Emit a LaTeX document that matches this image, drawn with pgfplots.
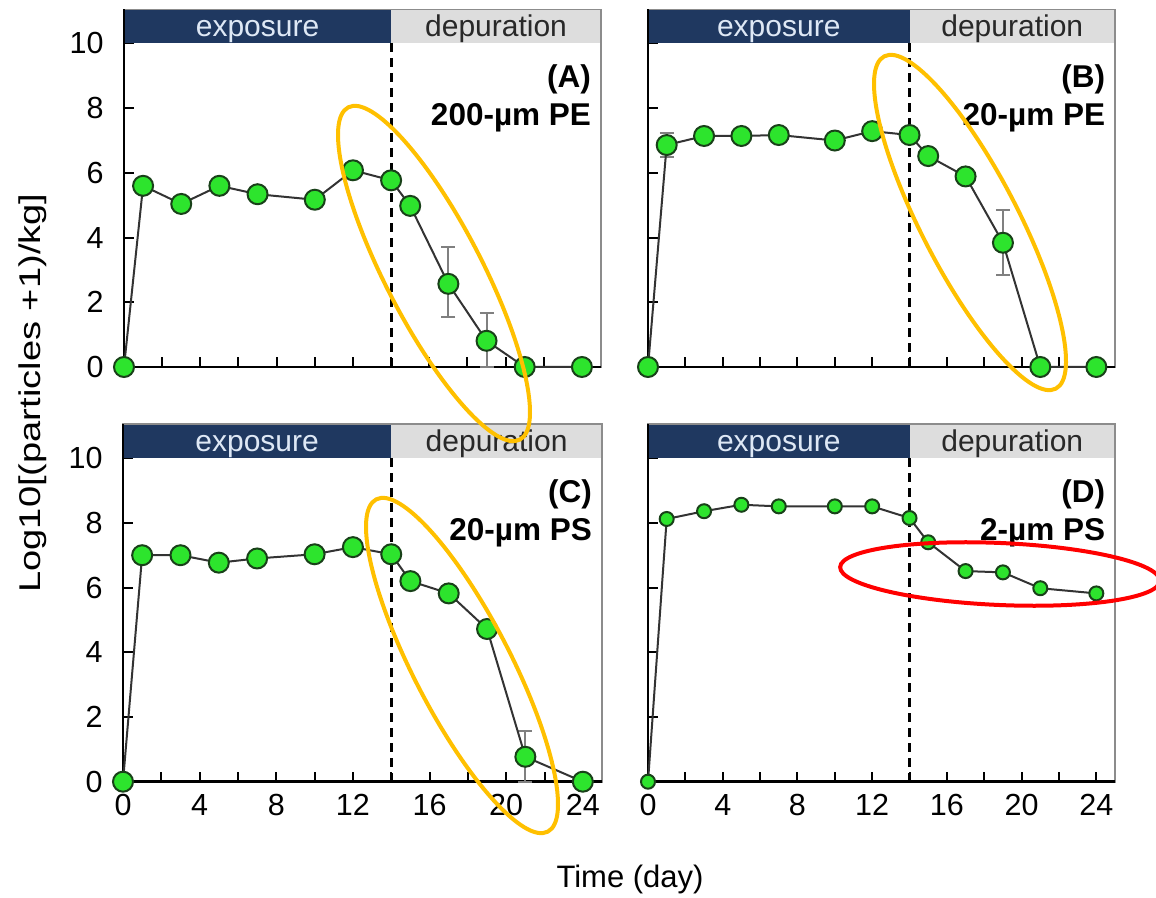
\documentclass[border=0pt]{standalone}
\usepackage{pgfplots}
\pgfplotsset{compat=1.18}
\usepackage{fontspec}
\setmainfont{Liberation Sans}
\usepackage{graphicx}
\definecolor{navy}{RGB}{31,56,96}
\definecolor{hdrgray}{RGB}{221,221,221}
\definecolor{ptgreen}{RGB}{45,228,45}
\definecolor{ptedge}{RGB}{25,65,25}
\definecolor{ellyellow}{RGB}{255,192,0}
\definecolor{exptext}{RGB}{222,232,245}
\definecolor{deptext}{RGB}{40,40,40}
\definecolor{framegray}{RGB}{140,140,140}

\pgfplotsset{
  panel/.style={
    scale only axis,
    width=#1, height=143pt,
    xmin=0, xmax=25, ymin=0, ymax=11.05,
    xtick={0,4,...,24}, minor xtick={2,6,...,22},
    ytick={0,2,...,10},
    tick align=inside,
    major tick length=4pt, minor tick length=4pt,
    xtick pos=bottom, ytick pos=left,
    tick style={black, line width=0.8pt},
    axis line style={framegray, line width=0.7pt},
    clip=false,
    /pgf/number format/assume math mode=true,
    ticklabel style={font=\fontsize{12.2}{14}\selectfont},
    yticklabel style={xshift=-4pt},
    xticklabel style={yshift=-1pt},
  },
  ser/.style={color=black!80, line width=0.8pt, mark=*, mark size=#1,
    mark options={fill=ptgreen, draw=ptedge, line width=0.8pt, solid}},
  errs/.style={draw=none, forget plot, mark=none,
    error bars/.cd, y dir=both, y explicit,
    error bar style={draw=gray, line width=0.8pt},
    error mark options={rotate=90, draw=gray, mark size=2.8pt, line width=0.8pt}},
}
\newcommand{\hdr}{%
  \fill[navy] (axis cs:0,10) rectangle (axis cs:14,11.05);
  \fill[hdrgray] (axis cs:14,10) rectangle (axis cs:25,11.05);
  \draw[framegray, line width=0.7pt] (axis cs:0,11.05) -- (axis cs:25,11.05) -- (axis cs:25,0);
  \node[text=exptext, anchor=base] at (axis cs:7,10.2) {exposure};
  \node[text=deptext, anchor=base] at (axis cs:19.5,10.2) {depuration};
  \draw[black, line width=1.3pt, dash pattern=on 3.6pt off 2.4pt] (axis cs:14,0) -- (axis cs:14,10);
  \draw[black, line width=1.1pt] (axis cs:0,11.05) -- (axis cs:0,0) -- (axis cs:25,0);
}
\newcommand{\plab}[2]{%
  \node[anchor=east, inner sep=0pt, align=right, font=\bfseries\fontsize{12.6}{15.2}\selectfont] at (axis cs:24.5,8.3) {#1\\#2};
}

\begin{document}
\fontsize{12}{14}\selectfont
\begin{tikzpicture}
\useasboundingbox (0,0) rectangle (462.4pt,358.8pt);

% Panel A
\begin{axis}[panel=190.8pt, at={(49.6pt,212pt)}, anchor=south west, xticklabels={}]
\hdr
\addplot[errs] coordinates {(17,2.57) += (0,1.13) -= (0,1.02) (19,0.81) += (0,0.86) -= (0,0.81)};
\addplot[ser=4pt] coordinates {(0,0) (1,5.6) (3,5.04) (5,5.6) (7,5.34) (10,5.17) (12,6.08) (14,5.77) (15,4.98) (17,2.57) (19,0.81) (21,0) (24,0)};
\plab{(A)}{200-µm PE}
\end{axis}

% Panel B
\begin{axis}[panel=186.8pt, at={(259.2pt,212pt)}, anchor=south west, xticklabels={}, yticklabels={}]
\hdr
\addplot[errs] coordinates {(1,6.86) += (0,0.38) -= (0,0.38) (19,3.84) += (0,1.0) -= (0,1.0)};
\addplot[ser=4pt] coordinates {(0,0) (1,6.86) (3,7.14) (5,7.14) (7,7.17) (10,7.0) (12,7.29) (14,7.17) (15,6.52) (17,5.89) (19,3.84) (21,0) (24,0)};
\plab{(B)}{20-µm PE}
\end{axis}

% Panel C
\begin{axis}[panel=191.6pt, at={(49.2pt,46.12pt)}, anchor=south west]
\hdr
\addplot[errs] coordinates {(21,0.77) += (0,0.8) -= (0,0.77)};
\addplot[ser=4pt] coordinates {(0,0) (1,7.0) (3,7.0) (5,6.77) (7,6.9) (10,7.03) (12,7.25) (14,7.03) (15,6.2) (17,5.82) (19,4.72) (21,0.77) (24,0)};
\plab{(C)}{20-µm PS}
\end{axis}

% Panel D
\begin{axis}[panel=186.8pt, at={(259.2pt,46.12pt)}, anchor=south west, yticklabels={}]
\hdr
\addplot[ser=2.8pt] coordinates {(0,0) (1,8.12) (3,8.36) (5,8.56) (7,8.51) (10,8.51) (12,8.51) (14,8.15) (15,7.4) (17,6.51) (19,6.47) (21,5.98) (24,5.82)};
\plab{(D)}{2-µm PS}
\end{axis}

% axis titles
\node[rotate=90] at (13pt,201.6pt) {\scalebox{1.27}[1]{Log10[(particles +1)/kg]}};
\node at (252pt,7pt) {\fontsize{12.4}{14}\selectfont Time (day)};

% annotation ellipses
\draw[ellyellow, line width=1.6pt, rotate around={-62.7:(173.6pt,249.4pt)}] (173.6pt,249.4pt) ellipse [x radius=74.8pt, y radius=19.4pt];
\draw[ellyellow, line width=1.6pt, rotate around={-62.7:(388pt,269.8pt)}] (388pt,269.8pt) ellipse [x radius=74.8pt, y radius=19.4pt];
\draw[ellyellow, line width=1.6pt, rotate around={-62.7:(184.8pt,92.6pt)}] (184.8pt,92.6pt) ellipse [x radius=74.8pt, y radius=19.4pt];
\draw[red, line width=1.6pt, rotate around={-2.5:(400pt,129.2pt)}] (400pt,129.2pt) ellipse [x radius=64pt, y radius=12.4pt];
\end{tikzpicture}
\end{document}
